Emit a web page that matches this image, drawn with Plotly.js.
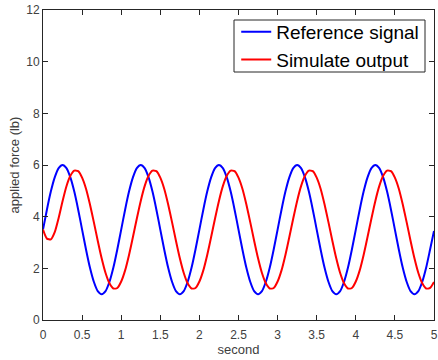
<!DOCTYPE html>
<html><head><meta charset="utf-8">
<script src="https://cdn.plot.ly/plotly-3.0.1.min.js"></script>
<style>html,body{margin:0;padding:0;background:#fff}#chart{width:438px;height:360px}</style>
</head><body><div id="chart"></div>
<script>
// time samples (s), every 0.05 s
const timeSec = [];
for (let i = 0; i <= 100; i++) timeSec.push(+(i * 0.05).toFixed(2));

// Reference signal values (one period = 20 samples)
const referenceSignal = [
 3.5,4.27,4.97,5.52,5.88,6.0,5.88,5.52,4.97,4.27,3.5,2.73,2.03,1.48,1.12,1.0,1.12,1.48,2.03,2.73,
 3.5,4.27,4.97,5.52,5.88,6.0,5.88,5.52,4.97,4.27,3.5,2.73,2.03,1.48,1.12,1.0,1.12,1.48,2.03,2.73,
 3.5,4.27,4.97,5.52,5.88,6.0,5.88,5.52,4.97,4.27,3.5,2.73,2.03,1.48,1.12,1.0,1.12,1.48,2.03,2.73,
 3.5,4.27,4.97,5.52,5.88,6.0,5.88,5.52,4.97,4.27,3.5,2.73,2.03,1.48,1.12,1.0,1.12,1.48,2.03,2.73,
 3.5,4.27,4.97,5.52,5.88,6.0,5.88,5.52,4.97,4.27,3.5,2.73,2.03,1.48,1.12,1.0,1.12,1.48,2.03,2.73,
 3.45
];

// Simulated output values
const simulateOutput = [
 3.5,3.15,3.12,3.4,3.95,4.6,5.18,5.58,5.78,5.76,5.51,5.08,4.48,3.79,3.07,2.39,1.82,1.42,1.22,1.24,
 1.49,1.92,2.52,3.21,3.93,4.61,5.18,5.58,5.78,5.76,5.51,5.08,4.48,3.79,3.07,2.39,1.82,1.42,1.22,1.24,
 1.49,1.92,2.52,3.21,3.93,4.61,5.18,5.58,5.78,5.76,5.51,5.08,4.48,3.79,3.07,2.39,1.82,1.42,1.22,1.24,
 1.49,1.92,2.52,3.21,3.93,4.61,5.18,5.58,5.78,5.76,5.51,5.08,4.48,3.79,3.07,2.39,1.82,1.42,1.22,1.24,
 1.49,1.92,2.52,3.21,3.93,4.61,5.18,5.58,5.78,5.76,5.51,5.08,4.48,3.79,3.07,2.39,1.82,1.42,1.22,1.24,
 1.47
];

const xTicks = [0,0.5,1,1.5,2,2.5,3,3.5,4,4.5,5];
const xTickText = ["0","0.5","1","1.5","2","2.5","3","3.5","4","4.5","5"];
const yTicks = [0,2,4,6,8,10,12];

const traces = [
  {x: timeSec, y: referenceSignal, name: "Reference signal", mode: "lines",
   line: {color: "#0000ff", width: 2, shape: "spline", smoothing: 0.6}},
  {x: timeSec, y: simulateOutput, name: "Simulate output", mode: "lines",
   line: {color: "#ff0000", width: 2, shape: "spline", smoothing: 0.6}}
];

const FONT = "Liberation Sans, Arial, sans-serif";
const axisCommon = {
  showgrid: false, zeroline: false, showline: true, mirror: "ticks",
  linecolor: "#262626", linewidth: 1, ticks: "inside", ticklen: 5,
  tickcolor: "#262626", tickfont: {family: FONT, size: 12, color: "#404040"}
};

const layout = {
  width: 438, height: 360,
  margin: {l: 43, r: 4, t: 10, b: 40},
  paper_bgcolor: "#fff", plot_bgcolor: "#fff",
  showlegend: true,
  legend: {x: 0.975, xanchor: "right", y: 0.9905, yanchor: "top",
    bgcolor: "rgba(0,0,0,0)", borderwidth: 0,
    font: {family: FONT, size: 19, color: "#000"},
    tracegroupgap: 0},
  // legend frame
  shapes: [{type: "rect", xref: "paper", yref: "paper", layer: "above",
    x0: 0.4885, x1: 0.977, y0: 0.8, y1: 0.9677,
    fillcolor: "#fff", line: {color: "#262626", width: 1}}],
  xaxis: Object.assign({}, axisCommon, {range: [0, 5], tickvals: xTicks, ticktext: xTickText,
    ticklabelstandoff: 4,
    title: {text: "second", font: {family: FONT, size: 13, color: "#404040"}, standoff: 3}}),
  yaxis: Object.assign({}, axisCommon, {range: [0, 12], tickvals: yTicks,
    title: {text: "applied force (lb)", font: {family: FONT, size: 13, color: "#404040"}, standoff: 3}})
};

Plotly.newPlot("chart", traces, layout, {displayModeBar: false, staticPlot: true});
</script></body></html>
